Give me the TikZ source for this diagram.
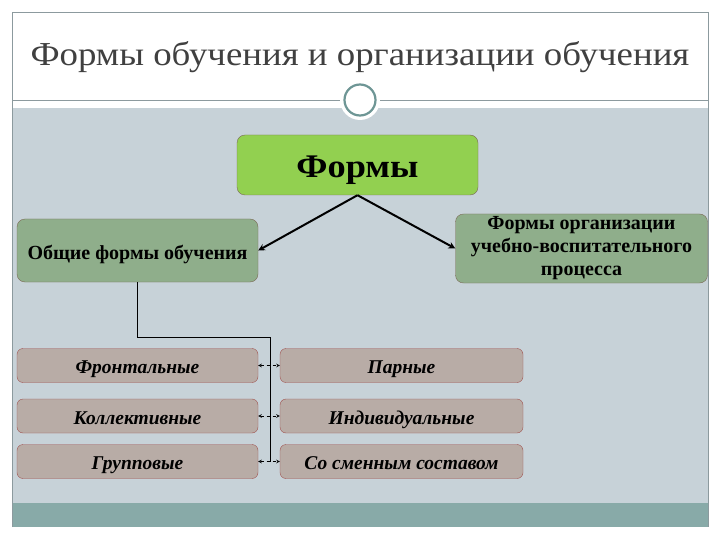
\documentclass[tikz,border=0pt]{standalone}
\usepackage{fontspec}
\setmainfont{Liberation Serif}
\newfontfamily\wideserif[FakeStretch=1.1]{Liberation Serif}
\definecolor{slidebg}{HTML}{C7D2D8}
\definecolor{footbar}{HTML}{88AAA8}
\definecolor{framegray}{HTML}{8C9A9E}
\definecolor{ringteal}{HTML}{6E9695}
\definecolor{titlegray}{HTML}{404040}
\definecolor{topgreen}{HTML}{92D050}
\definecolor{midgreen}{HTML}{8FAE8B}
\definecolor{rowpink}{HTML}{B8ACA6}
\definecolor{rowedge}{HTML}{A0524F}
\definecolor{boxedge}{HTML}{7A6A55}
\begin{document}
\begin{tikzpicture}[x=1pt, y=-1pt,
    topbox/.style={draw=boxedge, fill=topgreen, rounded corners=8pt, minimum width=241pt, minimum height=60pt, text height=26pt, text depth=0pt, font=\wideserif\fontsize{33}{36}\selectfont\bfseries},
    midbox/.style={draw=boxedge, fill=midgreen, rounded corners=8pt, font=\fontsize{20}{23}\selectfont\bfseries, align=center},
    rowbox/.style={draw=rowedge, fill=rowpink, rounded corners=6pt, minimum height=34pt, text height=16pt, text depth=0pt, font=\fontsize{19.5}{22}\selectfont\bfseries\itshape},
    arrow/.style={->, line width=2pt, >=stealth},
    link/.style={<->, dashed, line width=0.6pt, >=stealth}
]
    \useasboundingbox (0,0) rectangle (720,540);
    % slide
    \fill[white] (0,0) rectangle (720,540);
    \fill[slidebg] (12,108) rectangle (708,503);
    \fill[footbar] (12,503) rectangle (708,527);
    \draw[framegray] (12,527) -- (12,12) -- (708,12) -- (708,527);
    \draw[framegray] (12,100) -- (708,100);
    \fill[white] (360,100) circle (20);
    \draw[ringteal, line width=2.2pt] (360,100) circle (15.5);
    \node[text=titlegray, font=\wideserif\fontsize{33.5}{36}\selectfont] (title) at (360,57) {Формы обучения и организации обучения};

    \node[topbox] (forms) at (357.5,165) {Формы};
    \node[midbox, minimum width=241pt, minimum height=63pt, text height=18pt, text depth=0pt] (general) at (137.5,250.5) {Общие формы обучения};
    \node[midbox, minimum width=252pt, minimum height=69pt, inner sep=0pt] (org) at (581.5,248.5) {Формы организации\\учебно-воспитательного\\процесса};

    \node[rowbox, minimum width=241pt] (frontal) at (137.5,365.5) {Фронтальные};
    \node[rowbox, minimum width=241pt] (collective) at (137.5,416) {Коллективные};
    \node[rowbox, minimum width=241pt] (group) at (137.5,461.5) {Групповые};
    \node[rowbox, minimum width=243pt] (pair) at (401.5,365.5) {Парные};
    \node[rowbox, minimum width=243pt] (single) at (401.5,416) {Индивидуальные};
    \node[rowbox, minimum width=243pt] (shift) at (401.5,461.5) {Со сменным составом};

    \coordinate (bend) at (270,337);
    \coordinate (bottom) at (270,462);

    \draw[arrow] (forms.south) -- (general.east);
    \draw[arrow] (forms.south) -- (org.west);
    \draw[line width=0.8pt] (general.south) |- (bend) -- (bottom);

    \draw[link] (frontal.east) -- (pair.west);
    \draw[link] (collective.east) -- (single.west);
    \draw[link] (group.east) -- (shift.west);
\end{tikzpicture}
\end{document}
